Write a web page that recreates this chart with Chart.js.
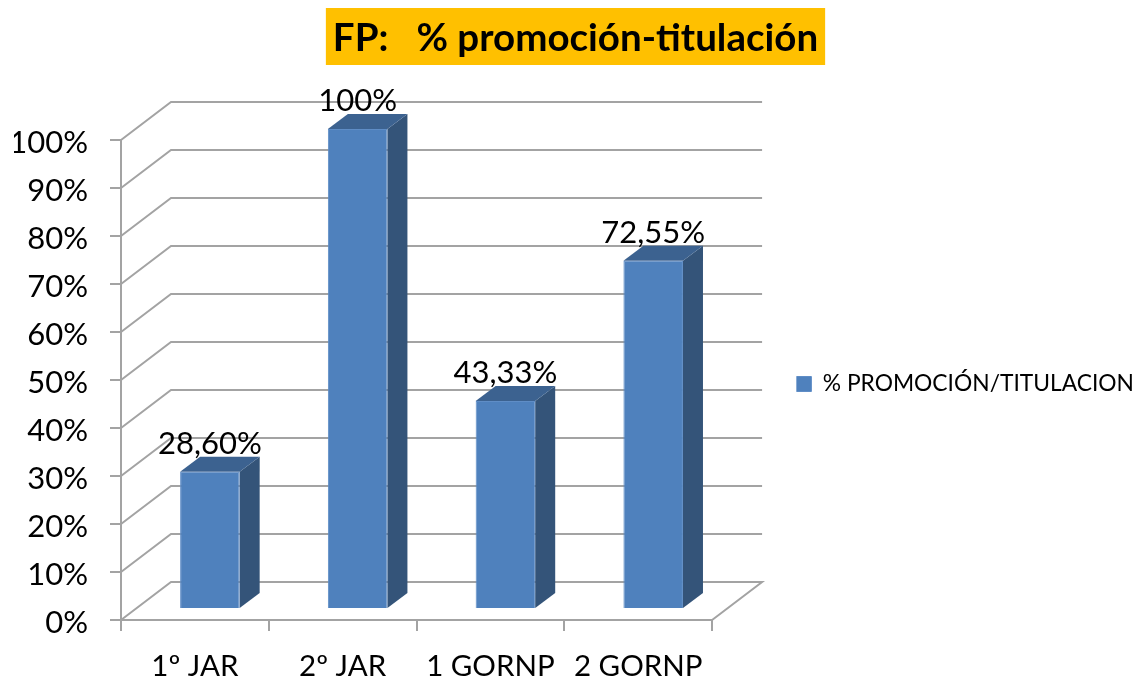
<!DOCTYPE html>
<html><head><meta charset="utf-8">
<style>html,body{margin:0;padding:0;background:#fff}#w{width:1137px;height:680px}</style>
<script src="https://cdn.jsdelivr.net/npm/chart.js@4/dist/chart.umd.min.js"></script>
</head><body><div id="w"><canvas id="c"></canvas></div>
<script>
const titleText = 'FP:   % promoción-titulación';
const seriesName = '% PROMOCIÓN/TITULACION';
const categories = ['1º JAR', '2º JAR', '1 GORNP', '2 GORNP'];
const values = [28.60, 100, 43.33, 72.55];
const valueLabels = ['28,60%', '100%', '43,33%', '72,55%'];
const FONT = 'Lato';
const GRID = '#a3a3a3';
const DEPTH = {dx: 50, dy: -38};
const BAR_SHIFT = {dx: 15, dy: -11};
const BAR_DEPTH = {dx: 20, dy: -15};

const scene = {
  id: 'scene',
  afterLayout(chart) {
    chart.legend.top += 4;
    chart.legend.bottom += 4;
    chart.legend.left += 7;
    chart.legend.right += 7;
  },
  beforeDraw(chart) {
    const {ctx} = chart;
    const t = chart.options.plugins.title;
    ctx.save();
    ctx.font = `bold ${t.font.size}px ${FONT}`;
    const w = ctx.measureText(titleText).width;
    const cx = chart.titleBlock.left + chart.titleBlock.width / 2;
    ctx.fillStyle = '#ffc000';
    ctx.fillRect(cx - w / 2 - 7, 8, w + 14, 57);
    ctx.restore();
  },
  beforeDatasetsDraw(chart) {
    const {ctx, chartArea: a, scales: {y}} = chart;
    ctx.save();
    ctx.strokeStyle = GRID; ctx.lineWidth = 2;
    y.ticks.forEach(tk => {
      const p = y.getPixelForValue(tk.value);
      ctx.beginPath();
      ctx.moveTo(a.left, p);
      ctx.lineTo(a.left + DEPTH.dx, p + DEPTH.dy);
      ctx.lineTo(a.right + DEPTH.dx, p + DEPTH.dy);
      if (tk.value === 0) ctx.lineTo(a.right, p);
      ctx.stroke();
    });
    ctx.restore();
    ctx.save();
    ctx.translate(BAR_SHIFT.dx, BAR_SHIFT.dy);
    chart.getDatasetMeta(0).data.forEach(b => {
      const l = b.x - b.width / 2, r = b.x + b.width / 2;
      ctx.fillStyle = '#345479';
      ctx.beginPath();
      ctx.moveTo(r, b.y); ctx.lineTo(r + BAR_DEPTH.dx, b.y + BAR_DEPTH.dy);
      ctx.lineTo(r + BAR_DEPTH.dx, b.base + BAR_DEPTH.dy); ctx.lineTo(r, b.base);
      ctx.closePath(); ctx.fill();
      ctx.fillStyle = '#3c6290';
      ctx.beginPath();
      ctx.moveTo(l, b.y); ctx.lineTo(l + BAR_DEPTH.dx, b.y + BAR_DEPTH.dy);
      ctx.lineTo(r + BAR_DEPTH.dx, b.y + BAR_DEPTH.dy); ctx.lineTo(r, b.y);
      ctx.closePath(); ctx.fill();
    });
  },
  afterDatasetsDraw(chart) {
    const {ctx} = chart;
    ctx.fillStyle = '#000';
    ctx.font = `31px ${FONT}`;
    ctx.textAlign = 'center';
    ctx.textBaseline = 'alphabetic';
    chart.getDatasetMeta(0).data.forEach((b, i) => {
      ctx.fillText(valueLabels[i], b.x, b.y - 18);
    });
    ctx.restore();
  }
};

new Chart(document.getElementById('c'), {
  type: 'bar',
  data: {
    labels: categories,
    datasets: [{
      label: seriesName, data: values, yAxisID: 'y', xAxisID: 'x',
      backgroundColor: '#4f81bd', borderColor: '#5f8dc6', borderWidth: 1,
      barPercentage: 0.403, categoryPercentage: 1, clip: false
    }]
  },
  plugins: [scene],
  options: {
    responsive: true, maintainAspectRatio: false, animation: false,
    layout: {padding: {left: 14, right: 0, top: 0, bottom: 0}, autoPadding: false},
    plugins: {
      tooltip: {enabled: false},
      title: {display: true, text: titleText, color: '#000', align: 'center',
        font: {family: FONT, size: 38.5, weight: 'bold', lineHeight: 1.2},
        padding: {top: 15, bottom: 78.8}},
      legend: {display: true, position: 'right', align: 'center', fullSize: false, maxWidth: 400,
        labels: {color: '#000', boxWidth: 15, boxHeight: 15, padding: 0,
          font: {family: FONT, size: 22.8}}}
    },
    scales: {
      x: {
        grid: {color: GRID, lineWidth: 2, drawOnChartArea: false, tickLength: 11},
        border: {color: GRID, width: 2},
        ticks: {color: '#000', padding: 18, maxRotation: 0, autoSkip: false,
          font: {family: FONT, size: 29.5}},
        afterFit(s) { s.height = 60; }
      },
      y: {
        min: 0, max: 100,
        grid: {color: GRID, lineWidth: 2, drawOnChartArea: false, tickLength: 11},
        border: {color: GRID, width: 2},
        ticks: {color: '#000', padding: 22, stepSize: 10, labelOffset: 2.5,
          font: {family: FONT, size: 31}, callback: v => v + '%'},
        afterFit(s) { s.width = 107; }
      },
      spacer: {
        type: 'linear', position: 'right', display: true,
        grid: {display: false}, border: {display: false}, ticks: {display: false},
        afterFit(s) { s.width = 77.3; }
      }
    }
  }
});
</script></body></html>
